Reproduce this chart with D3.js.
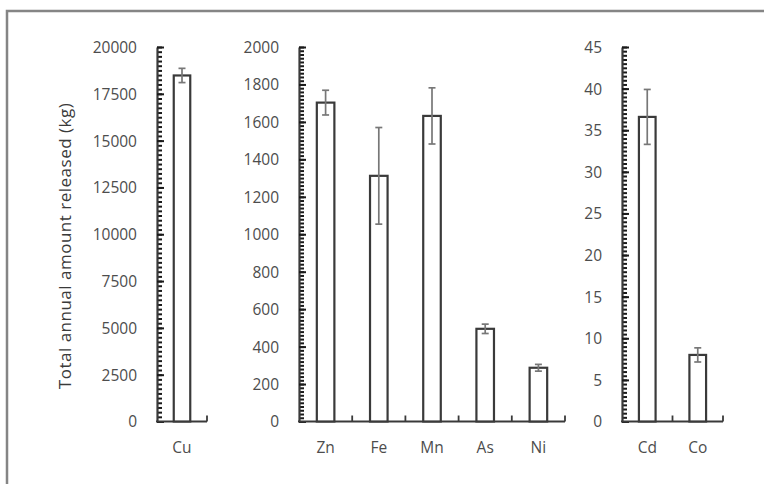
<!DOCTYPE html>
<html>
<head>
<meta charset="utf-8">
<script src="https://cdn.jsdelivr.net/npm/d3@7"></script>
<style>
  html, body { margin: 0; padding: 0; background: #fff; }
  svg { display: block; }
  text { font-family: "Open Sans", "DejaVu Sans", sans-serif; }
</style>
</head>
<body>
<svg id="chart" width="764" height="484"></svg>
<script>
// Annual release of metals, grouped by magnitude into three panels
const cuCategories = ["Cu"];
const cuValues = [18480];
const cuErrors = [380];
const cuTicks = [0, 2500, 5000, 7500, 10000, 12500, 15000, 17500, 20000];

const midCategories = ["Zn", "Fe", "Mn", "As", "Ni"];
const midValues = [1703, 1312, 1632, 495, 287];
const midErrors = [66, 258, 150, 25, 18];
const midTicks = [0, 200, 400, 600, 800, 1000, 1200, 1400, 1600, 1800, 2000];

const lowCategories = ["Cd", "Co"];
const lowValues = [36.6, 8.0];
const lowErrors = [3.3, 0.85];
const lowTicks = [0, 5, 10, 15, 20, 25, 30, 35, 40, 45];

const yLabel = "Total annual amount released (kg)";

const svg = d3.select("#chart");
const axisColor = "#3a3a3a";
const labelColor = "#4d4d4d";
const yTop = 47, yBottom = 421.5;

// outer frame
svg.append("rect")
  .attr("x", 7).attr("y", 11)
  .attr("width", 800).attr("height", 520)
  .attr("fill", "none")
  .attr("stroke", "#858585")
  .attr("stroke-width", 2.5);

const panels = [
  { cats: cuCategories, vals: cuValues, errs: cuErrors, ticks: cuTicks, x0: 157, x1: 207 },
  { cats: midCategories, vals: midValues, errs: midErrors, ticks: midTicks, x0: 299, x1: 565 },
  { cats: lowCategories, vals: lowValues, errs: lowErrors, ticks: lowTicks, x0: 622, x1: 723 }
];

panels.forEach(p => {
  const maxV = p.ticks[p.ticks.length - 1];
  const step = p.ticks[1] - p.ticks[0];
  const y = d3.scaleLinear().domain([0, maxV]).range([yBottom, yTop]);
  const x = d3.scaleBand().domain(p.cats).range([p.x0, p.x1]).paddingInner(0).paddingOuter(0);
  const g = svg.append("g");

  // minor ticks
  const minor = d3.range(0, maxV + step / 20, step / 10);
  g.append("g")
    .attr("transform", `translate(${p.x0},0)`)
    .call(d3.axisLeft(y).tickValues(minor).tickSize(-5).tickFormat(""))
    .call(a => a.select(".domain").remove())
    .call(a => a.selectAll("line").attr("stroke", "#1a1a1a").attr("stroke-width", 2));

  // major ticks and labels
  const yAxis = g.append("g")
    .attr("transform", `translate(${p.x0},0)`)
    .call(d3.axisLeft(y).tickValues(p.ticks).tickSizeInner(-7).tickSizeOuter(0).tickPadding(20).tickFormat(d3.format("d")));
  yAxis.select(".domain").attr("stroke", axisColor).attr("stroke-width", 2.2);
  yAxis.selectAll("line").attr("stroke", "#1a1a1a").attr("stroke-width", 2);
  yAxis.selectAll("text")
    .attr("fill", labelColor)
    .style("font-size", "15.5px")
    .attr("x", -20)
    .attr("dy", "0.35em");

  // category axis with separator ticks pointing up
  const xAxis = g.append("g").attr("transform", `translate(0,${yBottom})`);
  xAxis.append("line")
    .attr("x1", p.x0 - 1).attr("x2", p.x1)
    .attr("stroke", axisColor).attr("stroke-width", 2.2);
  const seps = p.cats.map((c, i) => x(c) + x.bandwidth());
  xAxis.selectAll("line.sep").data(seps).join("line")
    .attr("class", "sep")
    .attr("x1", d => d).attr("x2", d => d)
    .attr("y1", 0).attr("y2", -6)
    .attr("stroke", axisColor).attr("stroke-width", 1.8);
  xAxis.selectAll("text").data(p.cats).join("text")
    .attr("x", d => x(d) + x.bandwidth() / 2)
    .attr("y", 31)
    .attr("text-anchor", "middle")
    .attr("fill", labelColor)
    .style("font-size", "15.5px")
    .text(d => d);

  // bars
  const bw = x.bandwidth() * 0.33;
  const data = p.cats.map((c, i) => ({ c, v: p.vals[i], e: p.errs[i] }));
  g.selectAll("rect.bar").data(data).join("rect")
    .attr("class", "bar")
    .attr("x", d => x(d.c) + (x.bandwidth() - bw) / 2)
    .attr("y", d => y(d.v))
    .attr("width", bw)
    .attr("height", d => yBottom - y(d.v))
    .attr("fill", "#fff")
    .attr("stroke", axisColor)
    .attr("stroke-width", 2.2);

  // error bars
  const eb = g.selectAll("g.err").data(data).join("g").attr("class", "err")
    .attr("stroke", "#777").attr("stroke-width", 1.7);
  const cx = d => x(d.c) + x.bandwidth() / 2;
  eb.append("line")
    .attr("x1", cx).attr("x2", cx)
    .attr("y1", d => y(d.v + d.e)).attr("y2", d => y(d.v - d.e));
  eb.append("line")
    .attr("x1", d => cx(d) - 3.5).attr("x2", d => cx(d) + 3.5)
    .attr("y1", d => y(d.v + d.e)).attr("y2", d => y(d.v + d.e));
  eb.append("line")
    .attr("x1", d => cx(d) - 3.5).attr("x2", d => cx(d) + 3.5)
    .attr("y1", d => y(d.v - d.e)).attr("y2", d => y(d.v - d.e));
});

// shared y-axis title
svg.append("text")
  .attr("transform", `translate(71,246) rotate(-90)`)
  .attr("text-anchor", "middle")
  .attr("fill", axisColor)
  .style("font-size", "17px")
  .style("letter-spacing", "0.5px")
  .text(yLabel);
</script>
</body>
</html>
